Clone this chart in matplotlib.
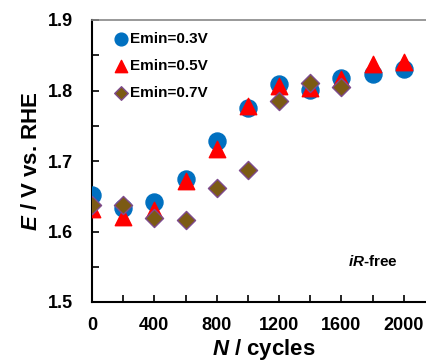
import matplotlib
matplotlib.use("Agg")
import matplotlib.pyplot as plt
from matplotlib.ticker import MultipleLocator

plt.rcParams['font.family'] = ['Liberation Sans', 'DejaVu Sans']
plt.rcParams['font.weight'] = 'bold'
plt.rcParams['mathtext.fontset'] = 'custom'
plt.rcParams['mathtext.it'] = 'Liberation Sans:italic:bold'
plt.rcParams['mathtext.rm'] = 'Liberation Sans:bold'

# cycles
cycles_a = [0, 200, 400, 600, 800, 1000, 1200, 1400, 1600, 1800, 2000]
cycles_c = [0, 200, 400, 600, 800, 1000, 1200, 1400, 1600]

# potentials (V vs. RHE)
e_03 = [1.652, 1.634, 1.642, 1.674, 1.729, 1.775, 1.809, 1.801, 1.818, 1.823, 1.830]
e_05 = [1.632, 1.621, 1.631, 1.672, 1.717, 1.778, 1.806, 1.804, 1.816, 1.837, 1.840]
e_07 = [1.637, 1.637, 1.619, 1.616, 1.662, 1.687, 1.785, 1.810, 1.805]

fig = plt.figure(figsize=(4.26, 3.61), dpi=100)
ax = fig.add_axes([92 / 426, 59 / 361, 343 / 426, 282 / 361])

ax.scatter(cycles_a, e_03, s=150, marker='o', color='#0070C0', label='Emin=0.3V', zorder=3)
ax.scatter(cycles_a, e_05, s=140, marker='^', color='#FF0000', label='Emin=0.5V', zorder=4)
ax.scatter(cycles_c, e_07, s=85, marker='D', color='#7B5A14', edgecolors='#7E4A8E',
           linewidths=1, label='Emin=0.7V', zorder=5)

ax.set_xlim(0, 2200)
ax.set_ylim(1.5, 1.9)
ax.xaxis.set_major_locator(MultipleLocator(400))
ax.xaxis.set_minor_locator(MultipleLocator(200))
ax.yaxis.set_major_locator(MultipleLocator(0.1))
ax.yaxis.set_minor_locator(MultipleLocator(0.05))
ax.tick_params(which='both', direction='in', length=5, width=1.2, labelsize=13)
ax.tick_params(axis='x', pad=11)
ax.tick_params(axis='y', pad=14)
ax.set_yticks([1.5, 1.6, 1.7, 1.8, 1.9])
ax.set_yticklabels(['1.5', '1.6', '1.7', '1.8', '1.9'])

for side in ['left', 'bottom']:
    ax.spines[side].set_linewidth(1.5)
ax.spines['top'].set_color('#888888')
ax.spines['top'].set_linewidth(1.2)
ax.spines['right'].set_visible(False)

ax.set_xlabel(r'$\mathit{N}$ / cycles', fontsize=16, fontweight='bold', labelpad=2)
ax.set_ylabel(r'$\mathit{E}$ / V vs. RHE', fontsize=16, fontweight='bold', labelpad=4)

ax.legend(loc='upper left', bbox_to_anchor=(0.03, 0.99), frameon=False, markerscale=0.75,
          handletextpad=0.0, labelspacing=0.85, borderaxespad=0.2, handlelength=1.2,
          prop={'weight': 'bold', 'size': 11})

ax.text(0.82, 0.142, r'$\mathit{iR}$-free', transform=ax.transAxes, fontsize=11,
        fontweight='bold', ha='center', va='center')

fig.savefig('out.png', dpi=100)
